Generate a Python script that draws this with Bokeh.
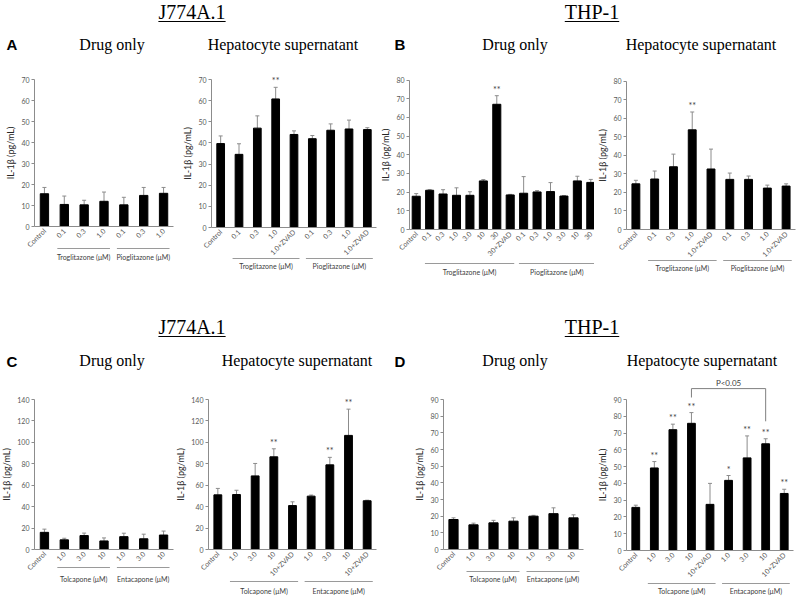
import math
from bokeh.plotting import figure
from bokeh.models import (Range1d, FixedTicker, Whisker, ColumnDataSource, Div, TeeHead)
from bokeh.layouts import row, column
from bokeh.embed import file_html
from bokeh.resources import INLINE
from bokeh.core.properties import value

# ---------------- data ----------------
cell_lines = ["J774A.1", "THP-1"]
panel_letters = ["A", "B", "C", "D"]
panel_titles = ["Drug only", "Hepatocyte supernatant"]
y_title = "IL-1β (pg/mL)"

# A: J774A.1, drug only
a1_labels = ["Control", "0.1", "0.3", "1.0", "0.1", "0.3", "1.0"]
a1_values = [15.6, 10.5, 10.3, 12.0, 10.3, 14.8, 15.8]
a1_errors = [3.0, 4.0, 2.2, 4.4, 3.6, 3.8, 2.8]
a1_sig = ["", "", "", "", "", "", ""]
a1_groups = [("Troglitazone (μM)", 2, 4), ("Pioglitazone (μM)", 5, 7)]

# A: J774A.1, hepatocyte supernatant
a2_labels = ["Control", "0.1", "0.3", "1.0", "1.0+ZVAD", "0.1", "0.3", "1.0", "1.0+ZVAD"]
a2_values = [39.7, 34.6, 47.0, 60.8, 44.0, 42.0, 46.0, 46.6, 46.3]
a2_errors = [3.6, 5.0, 5.8, 5.5, 1.7, 1.5, 3.0, 4.2, 0.9]
a2_sig = ["", "", "", "**", "", "", "", "", ""]
a2_groups = [("Troglitazone (μM)", 2, 5), ("Pioglitazone (μM)", 6, 9)]

# B: THP-1, drug only
b1_labels = ["Control", "0.1", "0.3", "1.0", "3.0", "10", "30", "30+ZVAD",
             "0.1", "0.3", "1.0", "3.0", "10", "30"]
b1_values = [17.8, 21.0, 19.0, 18.3, 18.3, 26.0, 67.0, 18.5, 19.4, 20.1, 20.3, 17.9, 26.0, 25.2]
b1_errors = [1.4, 0.3, 2.3, 4.0, 1.9, 0.7, 4.6, 0.3, 8.9, 0.7, 4.8, 0.3, 2.5, 1.6]
b1_sig = ["", "", "", "", "", "", "**", "", "", "", "", "", "", ""]
b1_groups = [("Troglitazone (μM)", 2, 8), ("Pioglitazone (μM)", 9, 14)]

# B: THP-1, hepatocyte supernatant
b2_labels = ["Control", "0.1", "0.3", "1.0", "1.0+ZVAD", "0.1", "0.3", "1.0", "1.0+ZVAD"]
b2_values = [24.6, 27.2, 33.8, 53.7, 32.6, 27.0, 27.0, 22.3, 23.4]
b2_errors = [1.9, 4.3, 6.8, 9.6, 10.7, 3.4, 1.8, 1.6, 1.2]
b2_sig = ["", "", "", "**", "", "", "", "", ""]
b2_groups = [("Troglitazone (μM)", 2, 5), ("Pioglitazone (μM)", 6, 9)]

# C: J774A.1, drug only
c1_labels = ["Control", "1.0", "3.0", "10", "1.0", "3.0", "10"]
c1_values = [16.0, 9.0, 13.0, 8.0, 12.0, 10.0, 13.5]
c1_errors = [3.0, 1.5, 2.3, 2.8, 3.2, 4.3, 3.7]
c1_sig = ["", "", "", "", "", "", ""]
c1_groups = [("Tolcapone (μM)", 2, 4), ("Entacapone (μM)", 5, 7)]

# C: J774A.1, hepatocyte supernatant
c2_labels = ["Control", "1.0", "3.0", "10", "10+ZVAD", "1.0", "3.0", "10", "10+ZVAD"]
c2_values = [51.0, 51.3, 68.7, 86.5, 41.0, 49.8, 79.0, 106.5, 45.5]
c2_errors = [6.0, 4.0, 11.6, 7.5, 3.5, 1.0, 7.0, 24.5, 0.5]
c2_sig = ["", "", "", "**", "", "", "**", "**", ""]
c2_groups = [("Tolcapone (μM)", 2, 5), ("Entacapone (μM)", 6, 9)]

# D: THP-1, drug only
d1_labels = ["Control", "1.0", "3.0", "10", "1.0", "3.0", "10"]
d1_values = [18.0, 14.8, 16.0, 17.0, 20.0, 21.5, 19.0]
d1_errors = [1.0, 1.0, 1.5, 2.0, 0.5, 3.5, 1.8]
d1_sig = ["", "", "", "", "", "", ""]
d1_groups = [("Tolcapone (μM)", 2, 4), ("Entacapone (μM)", 5, 7)]

# D: THP-1, hepatocyte supernatant
d2_labels = ["Control", "1.0", "3.0", "10", "10+ZVAD", "1.0", "3.0", "10", "10+ZVAD"]
d2_values = [25.7, 49.2, 72.0, 75.8, 27.5, 41.8, 55.2, 63.6, 34.0]
d2_errors = [1.3, 3.8, 3.3, 6.4, 12.5, 2.9, 13.1, 3.0, 2.5]
d2_sig = ["", "**", "**", "**", "", "*", "**", "**", "**"]
d2_groups = [("Tolcapone (μM)", 2, 5), ("Entacapone (μM)", 6, 9)]
d2_bracket = (4, 8, "P<0.05")

# ---------------- styles ----------------
AXIS = "#8c8c8c"
TICK_TXT = "#595959"
ERR = "#8c8c8c"
SANS = "Lato"
PAGE_W = 800


def panel(labels, vals, errs, sig, groups, ymax, step, geo, bar_w=0.42, bracket=None):
    fx0, fy0, fw, fh, fl, fr, zero, ytop, grp_line, grp_txt = geo
    n = len(labels)
    pxu = (zero - ytop) / ymax
    pxx = (fr - fl) / n
    p = figure(width=fw, height=fh, output_backend="svg", toolbar_location=None,
               x_range=Range1d(0.5 - (fl - fx0) / pxx, n + 0.5 + (fx0 + fw - fr) / pxx),
               y_range=Range1d(-(fy0 + fh - zero) / pxu, (zero - fy0) / pxu),
               min_border_left=0, min_border_right=0,
               min_border_top=0, min_border_bottom=0)
    p.outline_line_color = None
    p.grid.visible = False
    p.background_fill_color = "white"
    p.border_fill_color = "white"

    xs = list(range(1, n + 1))
    src = ColumnDataSource(dict(x=xs, top=vals,
                                upper=[v + e for v, e in zip(vals, errs)]))
    p.add_layout(Whisker(base="x", upper="upper", lower="top", source=src,
                         line_color=ERR, line_width=1,
                         upper_head=TeeHead(size=4, line_color=ERR, line_width=1),
                         lower_head=None))
    p.vbar(x="x", top="top", bottom=0, width=bar_w, source=src, fill_color="black",
           line_color="black")

    sx = [x for x, s in zip(xs, sig) if s]
    sy = [v + e for v, e, s in zip(vals, errs, sig) if s]
    st = [s for s in sig if s]
    if st:
        p.text(x=sx, y=sy, text=st, text_align="center", text_baseline="bottom",
               y_offset=-1, text_font=value(SANS), text_font_size="9px",
               text_color="#404040")

    if bracket is not None:
        i, j, txt = bracket
        lb = vals[i - 1] + errs[i - 1] + 9
        tp = lb + 5.3
        rb = vals[j - 1] + errs[j - 1] + 10.4
        p.line(x=[i, i, j, j], y=[lb, tp, tp, rb], line_color="#7f7f7f", line_width=1)
        p.text(x=[(i + j) / 2], y=[tp], text=[txt], text_align="center",
               text_baseline="bottom", y_offset=-1, text_font=value(SANS),
               text_font_size="8px", text_color="#404040")

    # x axis drawn along the zero line
    xa = p.xaxis[0]
    xa.fixed_location = 0
    xa.bounds = (0.5, n + 0.5)
    xa.ticker = FixedTicker(ticks=xs)
    xa.major_label_overrides = {x: lab for x, lab in zip(xs, labels)}
    xa.major_label_orientation = math.pi / 4
    xa.major_label_standoff = 3
    xa.major_tick_in = 0
    xa.major_tick_out = 0
    xa.minor_tick_line_color = None
    xa.axis_line_color = AXIS
    xa.major_label_text_font = SANS
    xa.major_label_text_font_size = "7px"
    xa.major_label_text_color = TICK_TXT

    # y axis drawn at the left edge of the first category slot
    ya = p.yaxis[0]
    ya.fixed_location = 0.5
    ya.ticker = FixedTicker(ticks=list(range(0, ymax + 1, step)))
    ya.bounds = (0, ymax)
    ya.major_tick_in = 0
    ya.major_tick_out = 3
    ya.major_tick_line_color = AXIS
    ya.minor_tick_line_color = None
    ya.axis_line_color = AXIS
    ya.major_label_standoff = 2
    ya.major_label_text_font = SANS
    ya.major_label_text_font_size = "7px"
    ya.major_label_text_color = TICK_TXT
    ya.axis_label = y_title
    ya.axis_label_standoff = 2
    ya.axis_label_text_font = SANS
    ya.axis_label_text_font_size = "9px"
    ya.axis_label_text_font_style = "normal"
    ya.axis_label_text_color = "#262626"

    # group captions beneath the category labels
    gl = [g0 - 0.35 for _, g0, _ in groups]
    gr = [g1 + 0.3 for _, _, g1 in groups]
    ly = -(grp_line - zero) / pxu
    ty = -(grp_txt - zero) / pxu
    p.segment(x0=gl, x1=gr, y0=[ly] * len(groups), y1=[ly] * len(groups),
              line_color="#9a9a9a", line_width=1)
    p.text(x=[(a + b) / 2 for a, b in zip(gl, gr)], y=[ty] * len(groups),
           text=[g[0] for g in groups], text_align="center", text_baseline="middle",
           text_font=value(SANS), text_font_size="7px", text_color="#404040")
    return p


# geometry in page pixels (the Bokeh page template has no body margin):
# (fig_x0, fig_y0, fig_w, fig_h, frame_left, frame_right, zero_px, ymax_px,
#  group_line_y, group_text_y)
H1_TOP, R1Y, R1H = 0, 56, 254
H2_TOP, R2Y, R2H = 310, 374, 222
geo_a1 = (0, R1Y, 180, R1H, 34, 173, 226, 79, 248, 256)
geo_a2 = (180, R1Y, 201, R1H, 211, 376, 227, 79, 258, 265)
geo_b1 = (381, R1Y, 213, R1H, 409, 597, 229, 79.5, 263, 271)
geo_b2 = (594, R1Y, 206, R1H, 626, 795, 229, 80.5, 260, 267)
geo_c1 = (0, R2Y, 176, R2H, 34, 173, 549, 399, 567, 578)
geo_c2 = (176, R2Y, 211, R2H, 208, 376, 549, 399, 581, 590)
geo_d1 = (387, R2Y, 207, R2H, 443, 583, 549, 399, 571, 578)
geo_d2 = (594, R2Y, 206, R2H, 626, 793, 550, 399, 583, 590)

pa1 = panel(a1_labels, a1_values, a1_errors, a1_sig, a1_groups, 70, 10, geo_a1)
pa2 = panel(a2_labels, a2_values, a2_errors, a2_sig, a2_groups, 70, 10, geo_a2)
pb1 = panel(b1_labels, b1_values, b1_errors, b1_sig, b1_groups, 80, 10, geo_b1, bar_w=0.6)
pb2 = panel(b2_labels, b2_values, b2_errors, b2_sig, b2_groups, 80, 10, geo_b2)
pc1 = panel(c1_labels, c1_values, c1_errors, c1_sig, c1_groups, 140, 20, geo_c1)
pc2 = panel(c2_labels, c2_values, c2_errors, c2_sig, c2_groups, 140, 20, geo_c2)
pd1 = panel(d1_labels, d1_values, d1_errors, d1_sig, d1_groups, 90, 10, geo_d1, bar_w=0.46)
pd2 = panel(d2_labels, d2_values, d2_errors, d2_sig, d2_groups, 90, 10, geo_d2,
            bracket=d2_bracket)


def span(txt, x, top, style):
    return (f'<span style="position:absolute;left:{x}px;top:{top:.1f}px;'
            f'transform:translateX(-50%);white-space:nowrap;color:#000;{style}">{txt}</span>')


SERIF_CSS = "font-family:'Liberation Serif',serif;"
CELL_CSS = (SERIF_CSS + "font-size:20px;line-height:20px;text-decoration:underline;"
            "text-underline-offset:2px;text-decoration-thickness:1px;")
TITLE_CSS = SERIF_CSS + "font-size:16px;line-height:16px;"
LETTER_CSS = ("font-family:'Liberation Sans',Arial,sans-serif;font-weight:bold;"
              "font-size:15px;line-height:15px;")


def header(div_top, h, cell_base, letter_pair, letter_y, title_base, title_x,
           letter_x=(12, 400), cell_x=(192, 592)):
    parts = []
    for txt, x in zip(cell_lines, cell_x):
        parts.append(span(txt, x, cell_base - 16.75 - div_top, CELL_CSS))
    for txt, x in zip(letter_pair, letter_x):
        parts.append(span(txt, x, letter_y - 7.4 - div_top, LETTER_CSS))
    titles = [panel_titles[0], panel_titles[1], panel_titles[0], panel_titles[1]]
    for txt, x in zip(titles, title_x):
        parts.append(span(txt, x, title_base - 13.4 - div_top, TITLE_CSS))
    html = (f'<div style="position:relative;width:{PAGE_W}px;height:{h}px;'
            f'overflow:visible">{"".join(parts)}</div>')
    return Div(text=html, width=PAGE_W, height=h, margin=0,
               styles={"overflow": "visible"})


h1 = header(H1_TOP, R1Y - H1_TOP, 19, panel_letters[:2], 44, 50, (112, 283, 515, 701))
h2 = header(H2_TOP, R2Y - H2_TOP, 334, panel_letters[2:], 361, 366, (112, 297, 515, 702))

layout = column(h1,
                row(pa1, pa2, pb1, pb2, spacing=0),
                h2,
                row(pc1, pc2, pd1, pd2, spacing=0),
                spacing=0)

open("out.html", "w").write(file_html(layout, INLINE))
